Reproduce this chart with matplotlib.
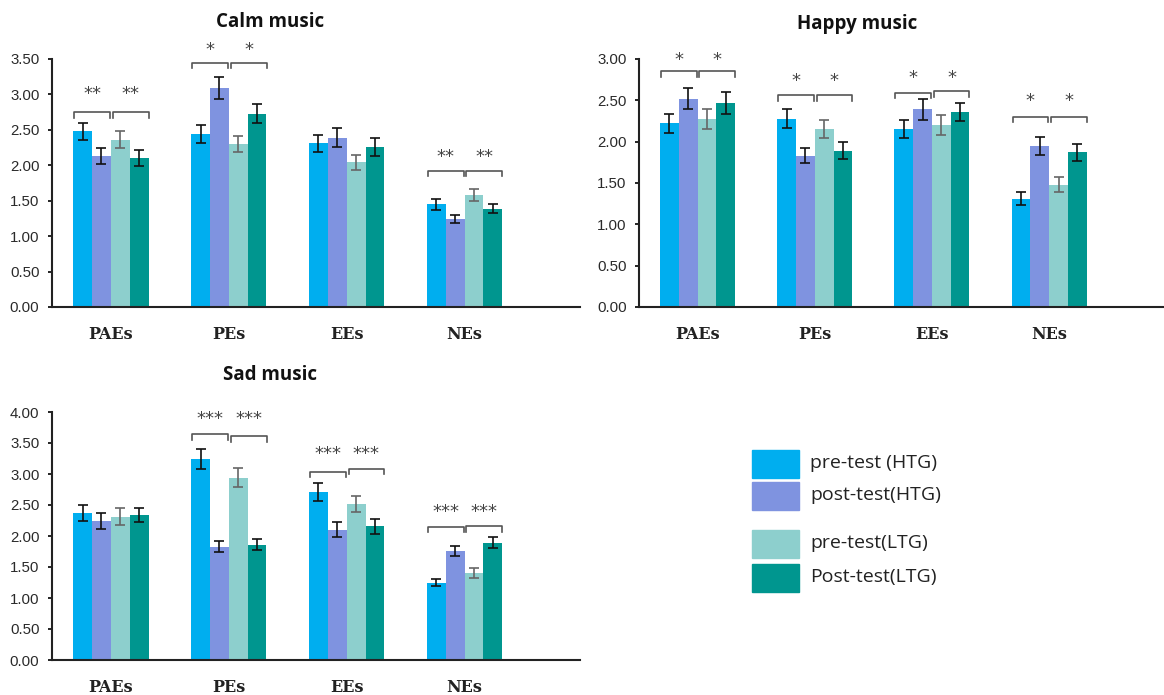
import numpy as np
import matplotlib
matplotlib.use("Agg")
from matplotlib import pyplot as plt
from matplotlib.patches import Rectangle

# 类别和组
categories = ['PAEs', 'PEs', 'EEs', 'NEs']
groups = ['pre-test (HTG)', 'post-test(HTG)', 'pre-test(LTG)', 'Post-test(LTG)']
colors = ['#00AEEF', '#7F93E0', '#8DCFCD', '#00968F']
err_colors = ['#111111', '#111111', '#666666', '#111111']

# 平静音乐 (每行为一组, 按类别)
calm_mean = [[2.48, 2.44, 2.31, 1.45],
             [2.13, 3.09, 2.39, 1.24],
             [2.36, 2.30, 2.04, 1.58],
             [2.10, 2.73, 2.26, 1.39]]
calm_err = [[0.12, 0.13, 0.12, 0.08],
            [0.11, 0.16, 0.13, 0.06],
            [0.12, 0.11, 0.11, 0.09],
            [0.11, 0.13, 0.13, 0.06]]

# 快乐音乐
happy_mean = [[2.22, 2.28, 2.15, 1.31],
              [2.52, 1.83, 2.39, 1.95],
              [2.27, 2.15, 2.20, 1.48],
              [2.47, 1.89, 2.36, 1.87]]
happy_err = [[0.11, 0.11, 0.11, 0.08],
             [0.13, 0.09, 0.13, 0.11],
             [0.12, 0.11, 0.12, 0.09],
             [0.13, 0.10, 0.11, 0.10]]

# 悲伤音乐
sad_mean = [[2.37, 3.24, 2.71, 1.25],
            [2.24, 1.83, 2.10, 1.76],
            [2.31, 2.94, 2.52, 1.41],
            [2.34, 1.86, 2.16, 1.89]]
sad_err = [[0.13, 0.16, 0.15, 0.06],
           [0.13, 0.09, 0.12, 0.08],
           [0.14, 0.15, 0.13, 0.08],
           [0.11, 0.09, 0.12, 0.09]]

# 显著性标记: (类别序号, 星号, 左括号高度, 右括号高度, 星号高度)
calm_sig = [(0, '**', 2.75, 2.75, 3.00), (1, '*', 3.45, 3.45, 3.63), (3, '**', 1.92, 1.92, 2.12)]
happy_sig = [(0, '*', 2.85, 2.85, 2.99), (1, '*', 2.56, 2.56, 2.73),
             (2, '*', 2.59, 2.61, 2.77), (3, '*', 2.30, 2.30, 2.49)]
sad_sig = [(1, '***', 3.64, 3.61, 3.89), (2, '***', 3.04, 3.08, 3.33), (3, '***', 2.15, 2.16, 2.39)]

W = 0.16


def draw_panel(ax, means, errs, sigs, ymax):
    x = np.arange(len(categories))
    for i in range(4):
        pos = x + (i - 1.5) * W
        ax.bar(pos, means[i], width=W, color=colors[i], zorder=2)
        ax.errorbar(pos, means[i], yerr=errs[i], fmt='none', ecolor=err_colors[i],
                    elinewidth=1.2, capsize=3.5, capthick=1.2, zorder=3)
    # 括号和星号
    for k, star, h1, h2, hs in sigs:
        dy = ymax * 0.022
        for (a, b), h in zip([(-1.95, -0.05), (0.1, 2.0)], [h1, h2]):
            xa, xb = k + a * W, k + b * W
            ax.plot([xa, xa, xb, xb], [h - dy, h, h, h - dy], color='#555555', lw=1.2,
                    clip_on=False, zorder=4)
            ax.text((xa + xb) / 2, hs, star, ha='center', va='center', fontsize=13,
                    color='#444444', clip_on=False, family='DejaVu Sans')
    ax.set_xlim(-0.5, 3.98)
    ax.set_ylim(0, ymax)
    ticks = np.arange(0, ymax + 0.01, 0.5)
    ax.set_yticks(ticks)
    ax.set_yticklabels(['%.2f' % v for v in ticks], family='Liberation Sans', fontsize=10.8,
                       color='#2a2a2a')
    ax.set_xticks(x)
    ax.set_xticklabels(categories, family='DejaVu Serif', fontweight='bold', fontsize=11.5,
                       color='#222222')
    ax.tick_params(axis='x', length=0, pad=14)
    ax.tick_params(axis='y', direction='out', length=3, width=1.2, pad=6)
    for s in ['top', 'right']:
        ax.spines[s].set_visible(False)
    for s in ['left', 'bottom']:
        ax.spines[s].set_linewidth(1.5)
        ax.spines[s].set_color('#222222')


fig = plt.figure(figsize=(11.64, 6.95), dpi=100)
ax1 = fig.add_axes([52 / 1164, 1 - 307 / 695, 528 / 1164, 248 / 695])
ax2 = fig.add_axes([639 / 1164, 1 - 307 / 695, 525 / 1164, 248 / 695])
ax3 = fig.add_axes([52 / 1164, 1 - 660 / 695, 528 / 1164, 248 / 695])

draw_panel(ax1, calm_mean, calm_err, calm_sig, 3.5)
draw_panel(ax2, happy_mean, happy_err, happy_sig, 3.0)
draw_panel(ax3, sad_mean, sad_err, sad_sig, 4.0)

# 标题
fig.text(270 / 1164, 1 - 22 / 695, 'Calm music', ha='center', va='center', fontsize=13.5,
         fontweight='bold', family='Open Sans', color='#111111')
fig.text(857 / 1164, 1 - 24 / 695, 'Happy music', ha='center', va='center', fontsize=13.5,
         fontweight='bold', family='Open Sans', color='#111111')
fig.text(270 / 1164, 1 - 375 / 695, 'Sad music', ha='center', va='center', fontsize=13.5,
         fontweight='bold', family='Open Sans', color='#111111')

# 图例
box_y = [450, 482, 530, 564]
for i in range(4):
    fig.patches.append(Rectangle((752 / 1164, 1 - (box_y[i] + 28) / 695), 47 / 1164, 28 / 695,
                                 transform=fig.transFigure, color=colors[i]))
    fig.text(810 / 1164, 1 - (box_y[i] + 13) / 695, groups[i], ha='left', va='center',
             fontsize=14, family='Open Sans', color='#222222')

plt.savefig('out.png', dpi=100)
